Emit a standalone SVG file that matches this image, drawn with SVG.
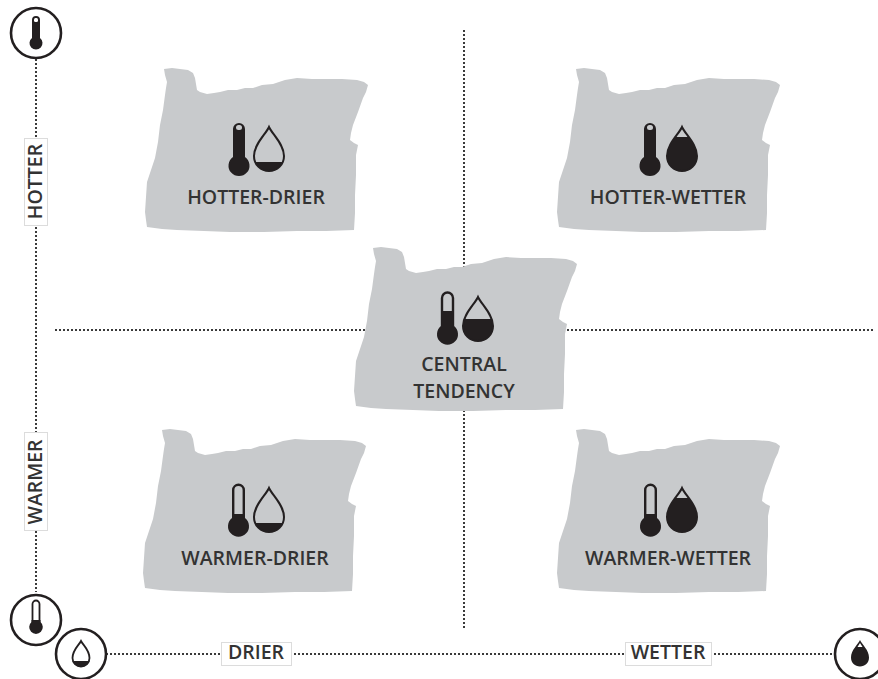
<svg xmlns="http://www.w3.org/2000/svg" width="878" height="679" viewBox="0 0 878 679">
<style>
.map{fill:#c8cacc}
.dark{fill:#231f20}
.line{fill:none;stroke:#231f20}
.dot{fill:none;stroke:#3a3a3a;stroke-width:2;stroke-dasharray:2 2}
.ring{fill:#fff;stroke:#231f20;stroke-width:2.6}
text{font-family:"Open Sans","Liberation Sans",sans-serif;font-weight:600;fill:#333;font-size:19.5px;text-anchor:middle}
.lab{fill:#fff;stroke:#dcdcdc;stroke-width:1}
</style>
<defs>
<path id="oregon" d="M164 69L172 68L180 69L188 70L193 73L195 78L196 84L197 90L200 92L207 94L214 93L220 92L228 90L237 90L245 88L253 88L262 85L273 84L285 80L297 78L312 79L327 79L342 79L357 80L364 82L368 85L366 92L363 98L358 112L353 125L351 133L350 140L354 143L358 145L357 150L356 155L356 175L355 195L355 213L354 230L326 231L297 231L264 232L230 232L204 231L177 230L162 229L147 227L146 220L145 212L146 197L147 182L151 170L155 158L158 142L160 125L163 110L165 95L166 88L167 82L165 75Z"/>
<clipPath id="dc"><path d="M269 127C266 134 254 144 254 156C254 165 261 171 269 171C277 171 284 165 284 156C284 144 272 134 269 127Z"/></clipPath>
<path id="dropLine" class="line" stroke-width="2" d="M269 127C266 134 254 144 254 156C254 165 261 171 269 171C277 171 284 165 284 156C284 144 272 134 269 127Z"/>
<g id="therm-hot">
<path class="dark" d="M233 129a6 6 0 0 1 12 0V157a10.500 10.500 0 1 1 -12 0Z"/>
<rect x="236" y="125" width="6" height="5" rx="2.500" fill="#c8cacc"/>
</g>
<g id="therm-mid">
<path class="line" stroke-width="2.400" d="M234 129a5.500 5.500 0 0 1 11 0V158"/>
<path class="line" stroke-width="2.400" d="M234 129V158"/>
<path class="dark" d="M233 142H246V157a10.500 10.500 0 1 1 -13 0Z"/>
</g>
<g id="therm-warm">
<path class="line" stroke-width="2.400" d="M234.200 129a5.300 5.300 0 0 1 10.600 0V158H234.200Z"/>
<path class="dark" d="M233 153H246V157a10.500 10.500 0 1 1 -13 0Z"/>
</g>
<g id="drop-dry">
<rect x="250" y="162" width="38" height="12" class="dark" clip-path="url(#dc)"/>
<use href="#dropLine"/>
</g>
<g id="drop-mid">
<rect x="250" y="149" width="38" height="25" class="dark" clip-path="url(#dc)"/>
<use href="#dropLine"/>
</g>
<g id="drop-wet">
<rect x="250" y="137" width="38" height="37" class="dark" clip-path="url(#dc)"/>
<use href="#dropLine"/>
</g>
</defs>
<rect width="878" height="679" fill="#fff"/>
<g id="connectors">
<path class="dot" d="M464 30V628"/>
<path class="dot" d="M55 330H873"/>
<path class="dot" d="M36 55V592"/>
<path class="dot" d="M106 654H836"/>
</g>
<g id="hotter-drier">
<use href="#oregon" class="map"/>
<use href="#therm-hot"/><use href="#drop-dry"/>
<text x="256" y="204">HOTTER-DRIER</text>
</g>
<g id="hotter-wetter">
<use href="#oregon" class="map" x="412"/>
<use href="#therm-hot" x="411"/><use href="#drop-wet" x="413"/>
<text x="668" y="204">HOTTER-WETTER</text>
</g>
<g id="central-tendency">
<use href="#oregon" class="map" x="209" y="179"/>
<use href="#therm-mid" x="208" y="169"/><use href="#drop-mid" x="209" y="170"/>
<text><tspan x="464" y="370.800">CENTRAL</tspan><tspan x="464" y="397.600">TENDENCY</tspan></text>
</g>
<g id="warmer-drier">
<use href="#oregon" class="map" x="-2" y="361"/>
<use href="#therm-warm" x="-1" y="361"/><use href="#drop-dry" y="361"/>
<text x="255" y="565">WARMER-DRIER</text>
</g>
<g id="warmer-wetter">
<use href="#oregon" class="map" x="412" y="361"/>
<use href="#therm-warm" x="411" y="361"/><use href="#drop-wet" x="413" y="361"/>
<text x="668" y="565">WARMER-WETTER</text>
</g>
<g id="axis-hotter">
<rect class="lab" x="24.500" y="138.500" width="23" height="87"/>
<text transform="translate(42 181.500) rotate(-90)">HOTTER</text>
</g>
<g id="axis-warmer">
<rect class="lab" x="24.500" y="432.500" width="23" height="98"/>
<text transform="translate(42 482) rotate(-90)">WARMER</text>
</g>
<g id="axis-drier">
<rect class="lab" x="221.500" y="642.500" width="70" height="23"/>
<text x="256" y="659">DRIER</text>
</g>
<g id="axis-wetter">
<rect class="lab" x="625.500" y="642.500" width="86" height="23"/>
<text x="668" y="659">WETTER</text>
</g>
<g id="icon-hotter">
<circle class="ring" cx="36" cy="33" r="25"/>
<path class="dark" d="M32 20a4 4 0 0 1 8 0V38a6.500 6.500 0 1 1 -8 0Z"/>
<rect x="34" y="18" width="4" height="4" rx="1.500" fill="#fff"/>
</g>
<g id="icon-warmer">
<circle class="ring" cx="36" cy="620" r="25"/>
<path class="line" stroke-width="1.800" d="M32.500 604a3.500 3.500 0 0 1 7 0V622H32.500Z"/>
<path class="dark" d="M31.500 620H40.500V622a6.800 6.800 0 1 1 -9 0Z"/>
</g>
<g id="icon-drier">
<circle class="ring" cx="81" cy="654" r="25"/>
<path fill="none" stroke="#231f20" stroke-width="1.800" d="M81 641C79 645 72.500 650 72.500 658C72.500 663 76.500 666.500 81 666.500C85.500 666.500 89.500 663 89.500 658C89.500 650 83 645 81 641Z"/>
<path class="dark" d="M72.600 661H89.400C88.500 664.500 85.500 666.500 81 666.500C76.500 666.500 73.500 664.500 72.600 661Z"/>
</g>
<g id="icon-wetter">
<circle class="ring" cx="860" cy="654" r="25"/>
<path class="dark" d="M860 640C858 644.500 851 650 851 657.500C851 663 855 666.500 860 666.500C865 666.500 869 663 869 657.500C869 650 862 644.500 860 640Z"/>
<path fill="#fff" d="M860 643L857.500 647H862.500Z"/>
</g>
</svg>
